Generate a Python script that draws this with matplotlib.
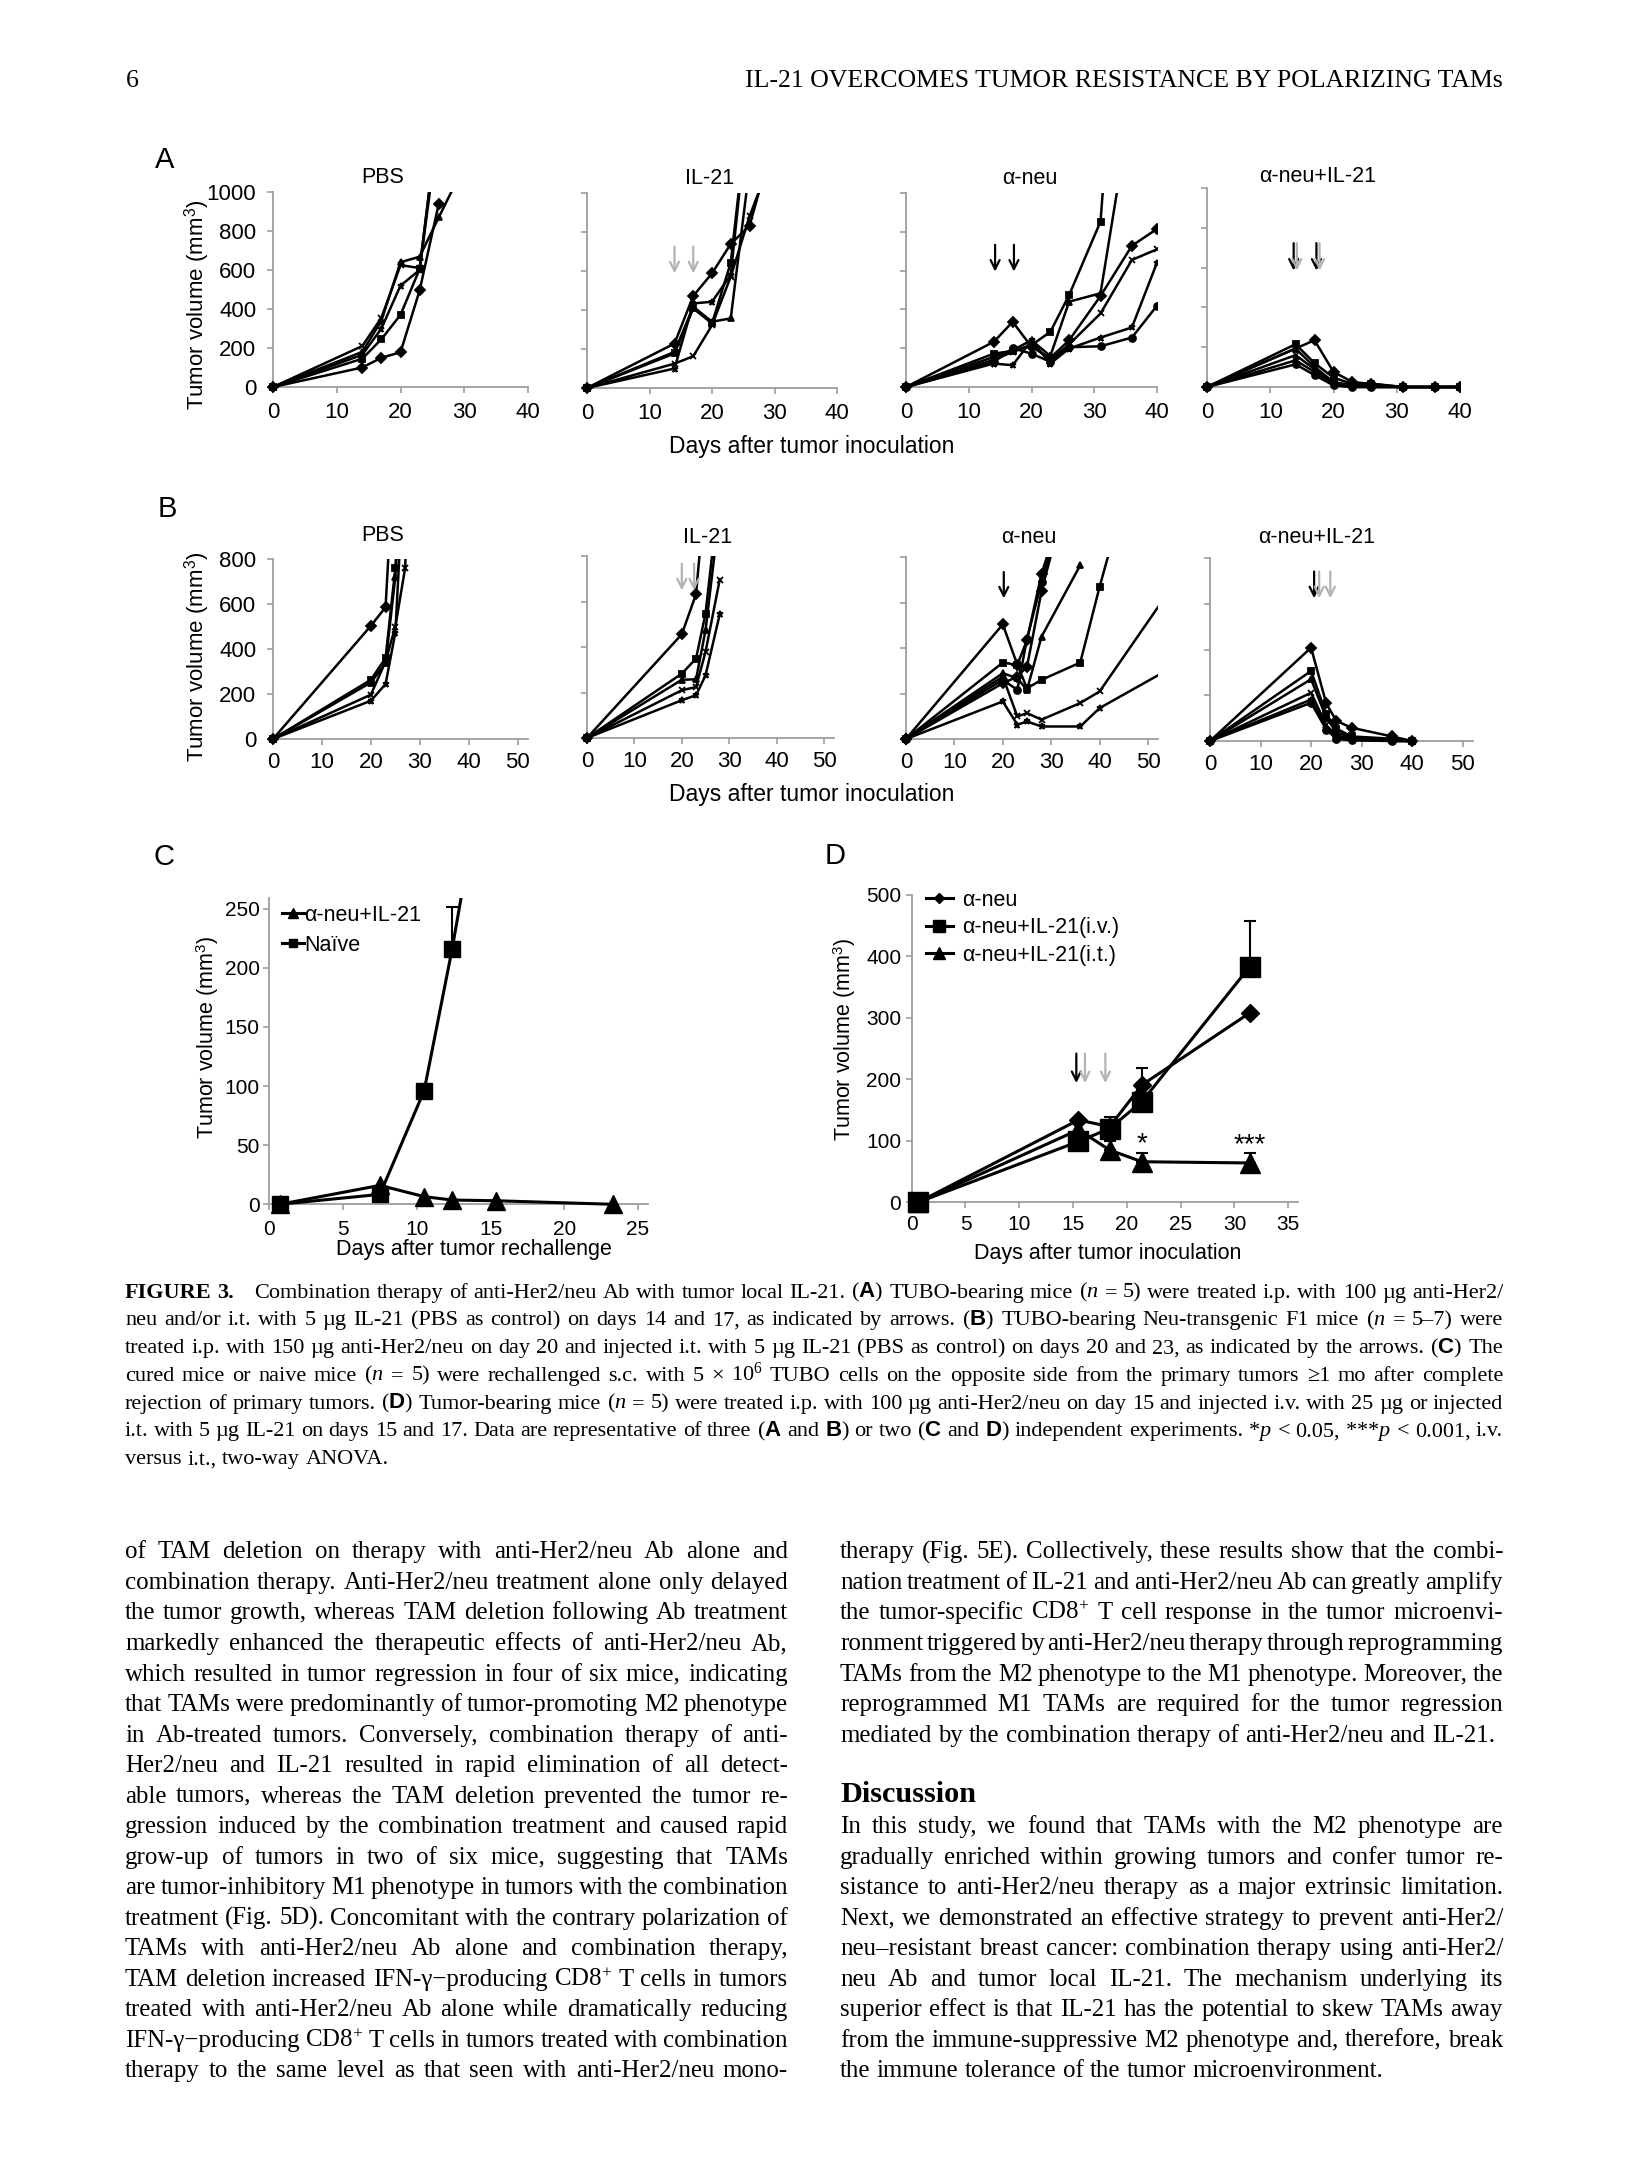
import numpy as np
import matplotlib
matplotlib.use('Agg')
import matplotlib.pyplot as plt
from matplotlib.transforms import Affine2D
from matplotlib.patches import Rectangle

# ---------------- data ----------------
# Panel A: individual mice, tumor volume (mm3) by day
A_days = [0, 14, 17, 20, 23, 26, 31, 36, 40]
A_pbs = [
    [0, 100, 150, 178, 495, 940],
    [0, 145, 245, 370, 605, 1400],
    [0, 180, 340, 640, 668, 870, 1200],
    [0, 210, 355, 625, 610, 1400],
    [0, 165, 300, 520, 600, 1350],
]
A_il21 = [
    [0, 228, 472, 588, 739, 832, 1400],
    [0, 177, 408, 331, 643, 1500],
    [0, 185, 417, 340, 357, 1130],
    [0, 125, 163, 322, 571, 880, 1300],
    [0, 100, 434, 442, 580, 1500],
]
A_aneu = [
    [0, 233, 336, 207, 150, 241, 469, 728, 815],
    [0, 172, 186, 216, 284, 474, 853, 3000],
    [0, 155, 190, 241, 160, 440, 483, 1480],
    [0, 140, 181, 216, 138, 220, 379, 655, 710],
    [0, 121, 112, 241, 121, 198, 255, 307, 641],
    [0, 128, 200, 172, 130, 205, 210, 255, 419],
]
A_combo = [
    [0, np.nan, 235, 76, 25, 15, 0, 0, 0],
    [0, 215, 120, 47, 15, 17, 0, 0, 0],
    [0, 193, 101, 25, 8, 5, 0, 0, 0],
    [0, 160, 90, 17, 5, 0, 0, 0, 0],
    [0, 134, 76, 10, 0, 0, 0, 0, 0],
    [0, 114, 60, 8, 0, 0, 0, 0, 0],
]
A_titles = ['PBS', 'IL-21', 'α-neu', 'α-neu+IL-21']
A_arrow_days = [[], [14, 17], [14.2, 17.2], [13.7, 14.2, 17.3, 17.8]]
A_arrow_cols = [[], ['g', 'g'], ['k', 'k'], ['k', 'g', 'k', 'g']]
A_arrow_span = [None, (725, 588), (733, 595), (723, 585)]

# Panel B
B_pbs_days = [0, 20, 23, 25, 27, 29]
B_pbs = [
    [0, 503, 586, 1370],
    [0, 263, 360, 760, 1500],
    [0, 251, 337, 722, 1400],
    [0, 197, 345, 500, 760, 2000],
    [0, 170, 244, 473, 1300],
]
B_il21_days = [0, 20, 23, 25, 28]
B_il21 = [
    [0, 456, 632, 1100],
    [0, 283, 349, 547, 1100],
    [0, 256, 258, 473, 1000],
    [0, 210, 224, 378, 696],
    [0, 166, 188, 275, 544],
]
B_aneu_days = [0, 20, 23, 25, 28, 36, 40, 43, 55]
B_aneu = [
    [0, 504, 326, 435, 727, 1250],
    [0, 336, 326, 223, 260, 336, 669, 900],
    [0, 289, 267, 216, 450, 764],
    [0, 274, 99, 114, 85, 158, 209, np.nan, 670],
    [0, 165, 63, 77, 55, 55, 136, np.nan, 315],
    [0, 260, 216, 440, 690, 1300],
    [0, 245, 274, 318, 650, 1300],
]
B_combo_days = [0, 20, 23, 25, 28, 36, 40]
B_combo = [
    [0, 408, 164, 88, 58, 20, 0],
    [0, 306, 117, 54, 20, 10, 0],
    [0, 270, 102, 39, 15, 3, 0],
    [0, 211, 69, 25, 10, 0, 0],
    [0, 181, 58, 15, 6, 0, 0],
    [0, 167, 50, 10, 3, 0, 0],
]
B_titles = ['PBS', 'IL-21', 'α-neu', 'α-neu+IL-21']
B_arrow_days = [[], [20, 22.6], [20.2], [20.6, 21.6, 23.8]]
B_arrow_cols = [[], ['g', 'g'], ['k'], ['k', 'g', 'g']]
B_arrow_span = [None, (766, 649), (734, 618), (741, 624)]

# Panel C: rechallenge
C_labels = ['α-neu+IL-21', 'Naïve']
C_days_combo = [0.7, 7.5, 10.5, 12.4, 15.4, 23.3]
C_combo = [0, 16, 6.5, 3.6, 3, 0]
C_days_naive = [0.7, 7.5, 10.5, 12.4, 15.4]
C_naive = [0, 8.4, 96, 216, 430]
C_naive_err = [0, 0, 0, 35, 0]

# Panel D: mean +/- SEM
D_labels = ['α-neu', 'α-neu+IL-21(i.v.)', 'α-neu+IL-21(i.t.)']
D_days = [0.6, 15.5, 18.4, 21.4, 31.4]
D_aneu = [0, 134, 123, 191, 308]
D_aneu_err = [0, 0, 0, 27, 0]
D_iv = [0, 99, 120, 164, 383]
D_iv_err = [0, 0, 19, 20, 74]
D_it = [0, 118, 85, 66, 64]
D_it_err = [0, 0, 14, 14, 16]
D_sig = ['', '', '', '*', '***']
D_arrow_days = [15.3, 16.1, 18.0]
D_arrow_cols = ['k', 'g', 'g']

# page text
HEADER_NUM = '6'
HEADER = 'IL-21 OVERCOMES TUMOR RESISTANCE BY POLARIZING TAMs'
CAPTION = [
    "§FIGURE §3.» Combination therapy of anti-Her2/neu Ab with tumor local IL-21. ($\\mathbf{A}$) TUBO-bearing mice ($n$ = 5) were treated i.p. with 100 µg anti-Her2/",
    "neu and/or i.t. with 5 µg IL-21 (PBS as control) on days 14 and 17, as indicated by arrows. ($\\mathbf{B}$) TUBO-bearing Neu-transgenic F1 mice ($n$ = 5–7) were",
    "treated i.p. with 150 µg anti-Her2/neu on day 20 and injected i.t. with 5 µg IL-21 (PBS as control) on days 20 and 23, as indicated by the arrows. ($\\mathbf{C}$) The",
    "cured mice or naive mice ($n$ = 5) were rechallenged s.c. with 5 × 10$^{6}$ TUBO cells on the opposite side from the primary tumors ≥1 mo after complete",
    "rejection of primary tumors. ($\\mathbf{D}$) Tumor-bearing mice ($n$ = 5) were treated i.p. with 100 µg anti-Her2/neu on day 15 and injected i.v. with 25 µg or injected",
    "i.t. with 5 µg IL-21 on days 15 and 17. Data are representative of three ($\\mathbf{A}$ and $\\mathbf{B}$) or two ($\\mathbf{C}$ and $\\mathbf{D}$) independent experiments. *$p$ < 0.05, ***$p$ < 0.001, i.v.",
    "versus i.t., two-way ANOVA.",
]
CAPTION_JUST = [1, 1, 1, 1, 1, 1, 0]
LEFT_COL = [
    "of TAM deletion on therapy with anti-Her2/neu Ab alone and",
    "combination therapy. Anti-Her2/neu treatment alone only delayed",
    "the tumor growth, whereas TAM deletion following Ab treatment",
    "markedly enhanced the therapeutic effects of anti-Her2/neu Ab,",
    "which resulted in tumor regression in four of six mice, indicating",
    "that TAMs were predominantly of tumor-promoting M2 phenotype",
    "in Ab-treated tumors. Conversely, combination therapy of anti-",
    "Her2/neu and IL-21 resulted in rapid elimination of all detect-",
    "able tumors, whereas the TAM deletion prevented the tumor re-",
    "gression induced by the combination treatment and caused rapid",
    "grow-up of tumors in two of six mice, suggesting that TAMs",
    "are tumor-inhibitory M1 phenotype in tumors with the combination",
    "treatment (Fig. 5D). Concomitant with the contrary polarization of",
    "TAMs with anti-Her2/neu Ab alone and combination therapy,",
    "TAM deletion increased IFN-γ−producing CD8$^{+}$ T cells in tumors",
    "treated with anti-Her2/neu Ab alone while dramatically reducing",
    "IFN-γ−producing CD8$^{+}$ T cells in tumors treated with combination",
    "therapy to the same level as that seen with anti-Her2/neu mono-",
]
LEFT_JUST = [1] * 18
RIGHT_TOP = [
    "therapy (Fig. 5E). Collectively, these results show that the combi-",
    "nation treatment of IL-21 and anti-Her2/neu Ab can greatly amplify",
    "the tumor-specific CD8$^{+}$ T cell response in the tumor microenvi-",
    "ronment triggered by anti-Her2/neu therapy through reprogramming",
    "TAMs from the M2 phenotype to the M1 phenotype. Moreover, the",
    "reprogrammed M1 TAMs are required for the tumor regression",
    "mediated by the combination therapy of anti-Her2/neu and IL-21.",
]
RIGHT_TOP_JUST = [1, 1, 1, 1, 1, 1, 0]
HEADING = 'Discussion'
RIGHT_BOTTOM = [
    "In this study, we found that TAMs with the M2 phenotype are",
    "gradually enriched within growing tumors and confer tumor re-",
    "sistance to anti-Her2/neu therapy as a major extrinsic limitation.",
    "Next, we demonstrated an effective strategy to prevent anti-Her2/",
    "neu–resistant breast cancer: combination therapy using anti-Her2/",
    "neu Ab and tumor local IL-21. The mechanism underlying its",
    "superior effect is that IL-21 has the potential to skew TAMs away",
    "from the immune-suppressive M2 phenotype and, therefore, break",
    "the immune tolerance of the tumor microenvironment.",
]
RIGHT_BOTTOM_JUST = [1, 1, 1, 1, 1, 1, 1, 1, 0]

# ---------------- setup ----------------
W, H = 1625, 2175
plt.rcParams['font.family'] = ['Liberation Sans', 'DejaVu Sans']
plt.rcParams['mathtext.fontset'] = 'custom'
plt.rcParams['mathtext.rm'] = 'Liberation Serif'
plt.rcParams['mathtext.it'] = 'Liberation Serif:italic'
plt.rcParams['mathtext.bf'] = 'Liberation Sans:bold'
plt.rcParams['mathtext.sf'] = 'Liberation Sans'

fig = plt.figure(figsize=(W / 100, H / 100), dpi=100)
fig.patch.set_facecolor('white')
PX = Affine2D().scale(1, -1).translate(0, H)   # page pixels, origin top-left
R = fig.canvas.get_renderer()
GREY = '#9d9d9d'
COLS = {'k': 'black', 'g': '#b3b3b3'}
MARKERS = ['D', 's', '^', 'x', '*', 'o', 'D']
SERIF = 'Liberation Serif'


def txt(x, y, s, **kw):
    return fig.text(x, y, s, transform=PX, **kw)


def box(x0, y0, x1, y1):
    return fig.add_axes([x0 / W, 1 - y1 / H, (x1 - x0) / W, (y1 - y0) / H])


def frame(ax, xlim, ylim, xticks, yticks, size, pad_x, pad_y, ylabels=True):
    ax.set_xlim(*xlim)
    ax.set_ylim(*ylim)
    ax.set_xticks(list(xticks))
    ax.set_yticks(list(yticks))
    ax.set_facecolor('none')
    for s in ('top', 'right'):
        ax.spines[s].set_visible(False)
    for s in ('left', 'bottom'):
        ax.spines[s].set_color(GREY)
        ax.spines[s].set_linewidth(1.3)
    ax.tick_params(color=GREY, width=1.2, length=4, labelsize=size, labelcolor='black')
    ax.tick_params(axis='x', pad=pad_x)
    ax.tick_params(axis='y', pad=pad_y)
    if not ylabels:
        ax.set_yticklabels([])


def clip(ax, artist):
    artist.set_clip_path(Rectangle((-0.06, -0.06), 1.06, 1.06, transform=ax.transAxes))


def curves(ax, days, groups):
    for i, ys in enumerate(groups):
        y = np.array(ys, float)
        x = np.array(days[:len(y)], float)
        ok = ~np.isnan(y)
        ln, = ax.plot(x[ok], y[ok], color='black', lw=1.8, marker=MARKERS[i % len(MARKERS)],
                      ms=5, mew=1.3, zorder=3)
        clip(ax, ln)


def arrows(ax, days, cols, span, scale=13):
    for d, c in zip(days, cols):
        ax.annotate('', xy=(d, span[1]), xytext=(d, span[0]),
                    arrowprops=dict(arrowstyle='->,head_length=0.5,head_width=0.25',
                                    color=COLS[c], lw=1.6, shrinkA=0, shrinkB=0,
                                    mutation_scale=scale))


# ---------------- panel A ----------------
A_boxes = [(273, 192, 528, 387), (587, 193, 837, 388), (906, 193, 1157, 387), (1207, 188, 1460, 387)]
A_data = [A_pbs, A_il21, A_aneu, A_combo]
A_title_xy = [(383, 183), (710, 184), (1030, 184), (1318, 182)]
for i, b in enumerate(A_boxes):
    ax = box(*b)
    frame(ax, (0, 40), (0, 1000), range(0, 41, 10), range(0, 1001, 200), 16, 7, 8, ylabels=(i == 0))
    curves(ax, A_days, A_data[i])
    if A_arrow_span[i]:
        arrows(ax, A_arrow_days[i], A_arrow_cols[i], A_arrow_span[i])
    txt(*A_title_xy[i], A_titles[i], fontsize=15.5, ha='center', va='baseline')
txt(165, 168, 'A', fontsize=21, ha='center', va='baseline')
txt(197, 305, 'Tumor volume (mm$^{\\mathsf{3}}$)', fontsize=16, rotation=90, ha='center', va='center')
txt(812, 447, 'Days after tumor inoculation', fontsize=16.5, ha='center', va='center')

# ---------------- panel B ----------------
B_boxes = [(273, 559, 527.5, 739), (587, 556, 833.5, 738), (906, 557, 1157.7, 739), (1210, 558, 1472.8, 741)]
B_data = [(B_pbs_days, B_pbs), (B_il21_days, B_il21), (B_aneu_days, B_aneu), (B_combo_days, B_combo)]
B_title_xy = [(383, 541), (708, 543), (1029, 543), (1317, 543)]
for i, b in enumerate(B_boxes):
    ax = box(*b)
    frame(ax, (0, 52), (0, 800), range(0, 51, 10), range(0, 801, 200), 16, 5, 8, ylabels=(i == 0))
    curves(ax, *B_data[i])
    if B_arrow_span[i]:
        arrows(ax, B_arrow_days[i], B_arrow_cols[i], B_arrow_span[i])
    txt(*B_title_xy[i], B_titles[i], fontsize=15.5, ha='center', va='baseline')
txt(167, 517, 'B', fontsize=21, ha='center', va='baseline')
txt(197, 657, 'Tumor volume (mm$^{\\mathsf{3}}$)', fontsize=16, rotation=90, ha='center', va='center')
txt(812, 795, 'Days after tumor inoculation', fontsize=16.5, ha='center', va='center')

# ---------------- panel C ----------------
axc = box(269.3, 898, 648.3, 1204.3)
frame(axc, (0, 25.7), (0, 259), range(0, 26, 5), range(0, 251, 50), 15, 7, 3)
lc1, = axc.plot(C_days_combo, C_combo, color='black', lw=2.2, marker='^', ms=13, zorder=4,
                label=C_labels[0])
lc2, = axc.plot(C_days_naive, C_naive, color='black', lw=2.2, marker='s', ms=12, zorder=3,
                label=C_labels[1])
for a in (lc1, lc2):
    clip(axc, a)
e = np.array(C_naive_err, float)
m = e > 0
axc.errorbar(np.array(C_days_naive)[m], np.array(C_naive)[m], yerr=[np.zeros(m.sum()), e[m]],
             fmt='none', ecolor='black', elinewidth=1.5, capsize=4, capthick=1.5, zorder=2)
axc.legend(handles=[lc1, lc2], loc='upper left', bbox_to_anchor=(282 / W, 1 - 905 / H),
           bbox_transform=fig.transFigure, frameon=False, markerscale=0.5, fontsize=15.5,
           handlelength=1.0, handletextpad=0.05, labelspacing=0.4, borderpad=0, borderaxespad=0)
txt(164, 865, 'C', fontsize=21, ha='center', va='baseline')
txt(208, 1037, 'Tumor volume (mm$^{\\mathsf{3}}$)', fontsize=15.5, rotation=90, ha='center', va='center')
txt(474, 1250, 'Days after tumor rechallenge', fontsize=15.5, ha='center', va='center')

# ---------------- panel D ----------------
axd = box(911.7, 895, 1298.3, 1202.3)
frame(axd, (0, 35.93), (0, 500), range(0, 36, 5), range(0, 501, 100), 15, 5, 3.5)
ld1, = axd.plot(D_days, D_aneu, color='black', lw=2.2, marker='D', ms=9, zorder=3, label=D_labels[0])
ld2, = axd.plot(D_days, D_iv, color='black', lw=2.2, marker='s', ms=14, zorder=3, label=D_labels[1])
ld3, = axd.plot(D_days, D_it, color='black', lw=2.2, marker='^', ms=14, zorder=4, label=D_labels[2])
for a in (ld1, ld2, ld3):
    clip(axd, a)
for ys, es in ((D_aneu, D_aneu_err), (D_iv, D_iv_err), (D_it, D_it_err)):
    e = np.array(es, float)
    m = e > 0
    axd.errorbar(np.array(D_days)[m], np.array(ys)[m], yerr=[np.zeros(m.sum()), e[m]],
                 fmt='none', ecolor='black', elinewidth=1.5, capsize=4, capthick=1.5, zorder=2)
for d, y, s in zip(D_days, D_it, D_sig):
    if s:
        axd.text(d, y + 17, s, fontsize=20, ha='center', va='baseline')
arrows(axd, D_arrow_days, D_arrow_cols, (242, 194), scale=13)
axd.legend(handles=[ld1, ld2, ld3], loc='upper left', bbox_to_anchor=(926 / W, 1 - 890 / H),
           bbox_transform=fig.transFigure, frameon=False, markerscale=0.6, fontsize=15.5,
           handlelength=1.25, handletextpad=0.45, labelspacing=0.3, borderpad=0, borderaxespad=0)
txt(835, 864, 'D', fontsize=21, ha='center', va='baseline')
txt(845, 1039, 'Tumor volume (mm$^{\\mathsf{3}}$)', fontsize=15.5, rotation=90, ha='center', va='center')
txt(1108, 1253, 'Days after tumor inoculation', fontsize=15.5, ha='center', va='center')


# ---------------- page text ----------------
def tokens(line):
    out = []
    for w in line.split(' '):
        kw, extra = {}, 0.0
        if w.startswith('§'):
            w, kw = w[1:], {'fontweight': 'bold'}
        if w.endswith('»'):
            w, extra = w[:-1], 1.0
        out.append((w, kw, extra))
    return out


def width_of(s, size, **kw):
    t = fig.text(0, 0, s, fontsize=size, family=SERIF, **kw)
    w = t.get_window_extent(R).width
    t.remove()
    return w


SPACE10 = width_of('n n', 10) - width_of('nn', 10)


def natural10(line):
    toks = tokens(line)
    return sum(width_of(w, 10, **kw) for w, kw, _ in toks) + SPACE10 * (len(toks) - 1)


def fit(lines, flags, width, q=20):
    r = [10 * width / natural10(l) for l, f in zip(lines, flags) if f]
    return float(np.percentile(r, q))


def set_block(lines, flags, x0, x1, centers, size, shift):
    extra = size * 0.9
    for line, just, yc in zip(lines, flags, centers):
        toks = tokens(line)
        ts = [txt(0, 0, w, fontsize=size, family=SERIF, va='baseline', ha='left', **kw)
              for w, kw, _ in toks]
        ws = [t.get_window_extent(R).width for t in ts]
        nx = sum(e for _, _, e in toks) * extra
        if just and len(ts) > 1:
            gap = (x1 - x0 - sum(ws) - nx) / (len(ts) - 1)
        else:
            gap = SPACE10 * size / 10
        x = x0
        for t, w, (_, _, e) in zip(ts, ws, toks):
            t.set_position((x, yc + shift))
            x += w + gap + e * extra


# running head
head_size = 10 * 762 / width_of(HEADER, 10)
txt(1503, 87, HEADER, fontsize=head_size, family=SERIF, ha='right', va='baseline')
txt(126, 87, HEADER_NUM, fontsize=head_size, family=SERIF, ha='left', va='baseline')

cap_size = fit(CAPTION, CAPTION_JUST, 1378)
set_block(CAPTION, CAPTION_JUST, 125, 1503, 1290.6 + 27.75 * np.arange(len(CAPTION)), cap_size, 7)

body_size = fit(LEFT_COL + RIGHT_TOP + RIGHT_BOTTOM, LEFT_JUST + RIGHT_TOP_JUST + RIGHT_BOTTOM_JUST, 663)
set_block(LEFT_COL, LEFT_JUST, 125, 788, 1551.4 + 30.53 * np.arange(len(LEFT_COL)), body_size, 7)
set_block(RIGHT_TOP, RIGHT_TOP_JUST, 840, 1503, 1551.4 + 30.53 * np.arange(len(RIGHT_TOP)), body_size, 7)
head2 = 10 * 135.5 / width_of(HEADING, 10, fontweight='bold')
txt(840, 1802, HEADING, fontsize=head2, family=SERIF, fontweight='bold', ha='left', va='baseline')
set_block(RIGHT_BOTTOM, RIGHT_BOTTOM_JUST, 840, 1503, 1826.2 + 30.53 * np.arange(len(RIGHT_BOTTOM)),
          body_size, 7)

fig.savefig('out.png', dpi=100, facecolor='white')
